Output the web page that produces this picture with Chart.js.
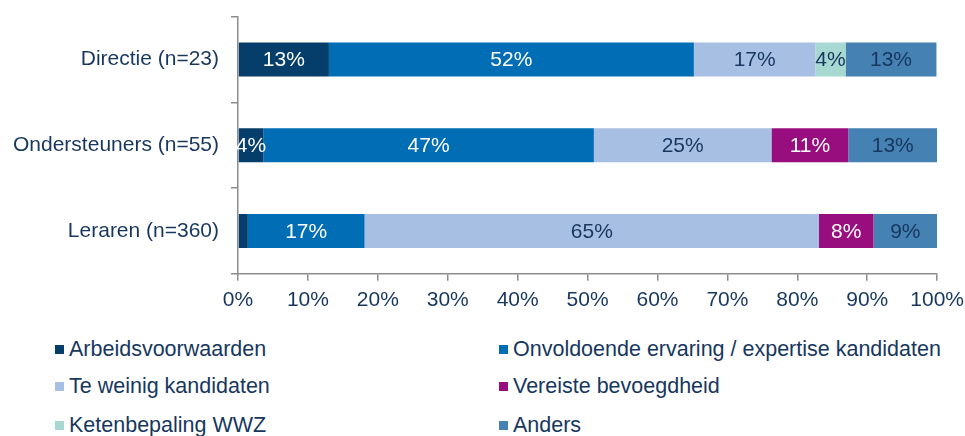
<!DOCTYPE html>
<html>
<head>
<meta charset="utf-8">
<script src="https://cdn.jsdelivr.net/npm/chart.js@4"></script>
<style>
  html, body { margin: 0; padding: 0; background: #fff; overflow: hidden; }
  #wrap { position: relative; width: 965px; height: 436px; overflow: hidden; font-family: "Liberation Sans", Arial, sans-serif; }
  #chartBox { position: absolute; left: 0; top: -8px; width: 971px; height: 328px; }
  .legend-item { position: absolute; font-size: 21.5px; color: #17375E; white-space: nowrap; line-height: 24px; }
  .legend-item span.box { display: inline-block; width: 9px; height: 9px; margin-right: 5px; vertical-align: 2px; }
</style>
</head>
<body>
<div id="wrap">
  <div id="chartBox"><canvas id="chart"></canvas></div>
</div>
<script>
/* ================= DATA ================= */

const categories = ["Directie (n=23)", "Ondersteuners (n=55)", "Leraren (n=360)"];

const seriesNames = [
  "Arbeidsvoorwaarden",
  "Onvoldoende ervaring / expertise kandidaten",
  "Te weinig kandidaten",
  "Vereiste bevoegdheid",
  "Ketenbepaling WWZ",
  "Anders",
];

const arbeidsvoorwaarden = [13.0, 3.6, 1.4];
const onvoldoende = [52.2, 47.3, 16.7];
const teWeinig = [17.4, 25.4, 65.0];
const bevoegdheid = [0, 11.0, 7.8];
const ketenbepaling = [4.3, 0, 0];
const anders = [13.0, 12.7, 9.1];

const xTicks = [0, 10, 20, 30, 40, 50, 60, 70, 80, 90, 100];

/* ================= STYLE ================= */

const colors = ["#053E6A", "#006DB5", "#A7BFE2", "#990E7E", "#A7D8D2", "#4581B3"];
const labelColors = ["#ffffff", "#ffffff", "#17375E", "#ffffff", "#17375E", "#17375E"];
const textColor = "#17375E";
const axisColor = "#8c8c8c";
const fontFamily = '"Liberation Sans", Arial, sans-serif';

const seriesValues = [arbeidsvoorwaarden, onvoldoende, teWeinig, bevoegdheid, ketenbepaling, anders];

/* ================= BAR LABELS ================= */

const barLabels = {
  id: "barLabels",
  afterDatasetsDraw(chart) {
    const ctx = chart.ctx;
    ctx.save();
    ctx.font = "21px " + fontFamily;
    ctx.textAlign = "center";
    ctx.textBaseline = "middle";
    chart.data.datasets.forEach((ds, di) => {
      const meta = chart.getDatasetMeta(di);
      meta.data.forEach((bar, i) => {
        const v = ds.data[i];
        if (v < 2) return;
        ctx.fillStyle = labelColors[di];
        const cx = (bar.x + bar.base) / 2;
        ctx.fillText(Math.round(v) + "%", cx, bar.y + 1);
      });
    });
    ctx.restore();
  },
};

/* ================= CHART ================= */

const chart = new Chart(document.getElementById("chart"), {
  type: "bar",
  data: {
    labels: categories,
    datasets: seriesNames.map((name, i) => ({
      label: name,
      data: seriesValues[i],
      backgroundColor: colors[i],
      borderWidth: 0,
      categoryPercentage: 0.8,
      barPercentage: 0.495,
    })),
  },
  options: {
    indexAxis: "y",
    responsive: true,
    maintainAspectRatio: false,
    animation: false,
    layout: { padding: { top: 6, right: 22, left: 1, bottom: 0 } },
    plugins: {
      legend: { display: false },
      tooltip: { enabled: false },
    },
    scales: {
      x: {
        stacked: true,
        min: 0,
        max: 100,
        afterBuildTicks: (axis) => { axis.ticks = xTicks.map(v => ({ value: v })); },
        ticks: {
          color: textColor,
          font: { size: 21, family: fontFamily },
          callback: (v) => v + "%",
          padding: 7,
          maxRotation: 0,
        },
        grid: { drawOnChartArea: false, tickLength: 7, color: axisColor, lineWidth: 1.5 },
        border: { color: axisColor, width: 1.5 },
      },
      y: {
        stacked: true,
        ticks: {
          color: textColor,
          font: { size: 21, family: fontFamily },
          padding: 12,
        },
        grid: { drawOnChartArea: false, tickLength: 7, color: axisColor, lineWidth: 1.5, offset: true },
        border: { color: axisColor, width: 1.5 },
      },
    },
  },
  plugins: [barLabels],
});

/* ================= LEGEND ================= */

const wrap = document.getElementById("wrap");
const legendCols = [55, 499];
const legendRows = [337, 374, 413];

seriesNames.forEach((name, i) => {
  const item = document.createElement("div");
  item.className = "legend-item";
  item.style.left = legendCols[i % 2] + "px";
  item.style.top = legendRows[Math.floor(i / 2)] + "px";
  item.innerHTML = `<span class="box" style="background:${colors[i]}"></span>${name}`;
  wrap.appendChild(item);
});
</script>
</body>
</html>
